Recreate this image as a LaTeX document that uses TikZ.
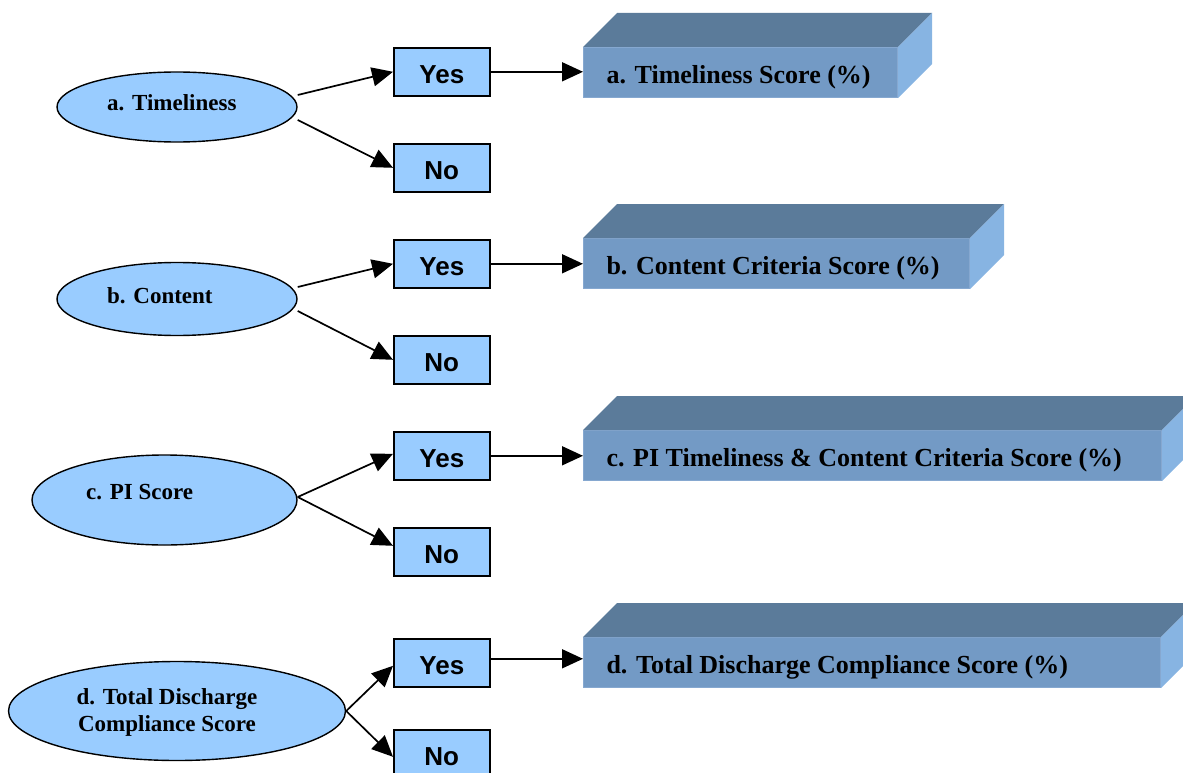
\documentclass[tikz,border=0pt]{standalone}
\usepackage{fontspec}
\setmainfont{Liberation Serif}
\setsansfont{Liberation Sans}
\usetikzlibrary{shapes.geometric,arrows.meta}
\definecolor{lightblue}{HTML}{99CCFF}
\definecolor{frontblue}{HTML}{739AC5}
\definecolor{topblue}{HTML}{5B7B9A}
\definecolor{sideblue}{HTML}{87B4E2}
\definecolor{edgeblue}{HTML}{86A8D0}
\newcommand{\lefttext}[2]{\makebox[#1][l]{#2}}
\tikzset{
  oval/.style={ellipse, draw=black, line width=1.4pt, fill=lightblue, inner sep=0pt},
  ovaltext/.style={anchor=base west, inner sep=0pt, font=\bfseries\fontsize{23}{27}\selectfont, align=center},
  choice/.style={rectangle, draw=black, line width=1.6pt, fill=lightblue, minimum width=96pt, minimum height=48pt, anchor=north west, inner sep=0pt, text height=23pt, text depth=0pt, font=\sffamily\bfseries\fontsize{26}{30}\selectfont},
  front/.style={rectangle, fill=frontblue, draw=edgeblue, line width=1pt, anchor=north west, inner xsep=23pt, inner ysep=0pt, minimum height=50pt, text height=24pt, text depth=2pt, font=\bfseries\fontsize{26}{30}\selectfont},
  topface/.style={fill=topblue},
  sideface/.style={fill=sideblue},
  link/.style={line width=1.7pt, -{Triangle[length=21pt,width=19pt]}}
}
\begin{document}
\begin{tikzpicture}[x=1pt,y=-1pt]
\useasboundingbox (0,0) rectangle (1183,773);

% ellipses
\node[oval, minimum width=240pt, minimum height=70pt] (ea) at (177,107) {};
\node[oval, minimum width=240pt, minimum height=73pt] (eb) at (177,299) {};
\node[oval, minimum width=265pt, minimum height=90pt] (ec) at (164.5,500) {};
\node[oval, minimum width=337pt, minimum height=99pt] (ed) at (177,711) {};

\node[ovaltext] (ta) at (107,111) {a. Timeliness};
\node[ovaltext] (tb) at (107,303) {b. Content};
\node[ovaltext] (tc) at (86,499) {c. PI Score};
\node[anchor=center, inner sep=0pt, font=\bfseries\fontsize{23}{27}\selectfont, align=center] (td) at (167,712) {d. Total Discharge\\Compliance Score};

% yes / no boxes
\node[choice] (ya) at (393,47) {Yes\hspace{6pt}};
\node[choice] (na) at (393,143) {No\hspace{14pt}};
\node[choice] (yb) at (393,239) {Yes\hspace{6pt}};
\node[choice] (nb) at (393,335) {No\hspace{14pt}};
\node[choice] (yc) at (393,431) {Yes\hspace{6pt}};
\node[choice] (nc) at (393,527) {No\hspace{14pt}};
\node[choice] (yd) at (393,638) {Yes\hspace{6pt}};
\node[choice] (nd) at (393,729) {No\hspace{14pt}};

% 3D boxes
\node[front] (sa) at (583,47) {\lefttext{268pt}{a. Timeliness Score (\%)}};
\node[front] (sb) at (583,238) {\lefttext{340pt}{b. Content Criteria Score (\%)}};
\node[front] (sc) at (583,430) {\lefttext{532pt}{c. PI Timeliness \& Content Criteria Score (\%)}};
\node[front] (sd) at (583,637) {\lefttext{531pt}{d. Total Discharge Compliance Score (\%)}};

\foreach \b in {sa,sb,sc,sd}{
  \fill[topface] (\b.north west) -- ++(34,-34) -- ([xshift=34pt,yshift=34pt]\b.north east) -- (\b.north east) -- cycle;
  \fill[sideface] (\b.north east) -- ++(34,-34) -- ([xshift=34pt,yshift=34pt]\b.south east) -- (\b.south east) -- cycle;
}

% connectors
\draw[link] ([yshift=12pt]ea.east) -- (ya.west);
\draw[link] ([yshift=-13pt]ea.east) -- (na.west);
\draw[link] ([yshift=12pt]eb.east) -- (yb.west);
\draw[link] ([yshift=-12pt]eb.east) -- (nb.west);
\draw[link] ([yshift=3pt]ec.east) -- ([yshift=2pt]yc.west);
\draw[link] ([yshift=3pt]ec.east) -- ([yshift=6pt]nc.west);
\draw[link] (ed.east) -- ([yshift=-3pt]yd.west);
\draw[link] (ed.east) -- ([yshift=-3pt]nd.west);

\draw[link] (ya.east) -- (ya.east -| sa.west);
\draw[link] (yb.east) -- (yb.east -| sb.west);
\draw[link] (yc.east) -- (yc.east -| sc.west);
\draw[link] ([yshift=4pt]yd.east) -- ([yshift=4pt]yd.east -| sd.west);
\end{tikzpicture}
\end{document}
